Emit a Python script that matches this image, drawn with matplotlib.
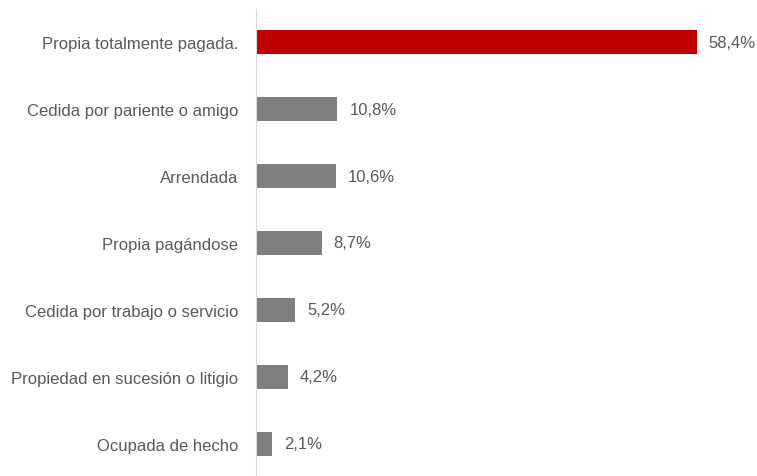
import matplotlib
matplotlib.use("Agg")
import matplotlib.pyplot as plt

categories = ["Propia totalmente pagada.", "Cedida por pariente o amigo", "Arrendada",
              "Propia pagándose", "Cedida por trabajo o servicio",
              "Propiedad en sucesión o litigio", "Ocupada de hecho"]
values = [58.4, 10.8, 10.6, 8.7, 5.2, 4.2, 2.1]
labels = ["58,4%", "10,8%", "10,6%", "8,7%", "5,2%", "4,2%", "2,1%"]
colors = ["#C00000"] + ["#7F7F7F"] * 6

plt.rcParams['font.family'] = ['Liberation Sans', 'DejaVu Sans']

fig = plt.figure(figsize=(7.57, 4.77), dpi=100)
ax = fig.add_axes([256/757, -1/477, 498/757, 468/477])
ypos = list(range(len(categories)))
ax.barh(ypos, values, height=0.36, color=colors, edgecolor="none")
ax.set_ylim(len(categories) - 0.5, -0.5)
ax.set_xlim(0, 66)
ax.set_yticks(ypos)
ax.set_yticklabels(categories, fontsize=12, color="#595959")
ax.tick_params(axis='y', length=0, pad=13)
ax.set_xticks([])
for s in ["top", "right", "bottom"]:
    ax.spines[s].set_visible(False)
ax.spines["left"].set_color("#D9D9D9")
for y, v, l in zip(ypos, values, labels):
    ax.text(v + 1.6, y, l, va="center", ha="left", fontsize=12, color="#595959")
fig.savefig("out.png", dpi=100)
